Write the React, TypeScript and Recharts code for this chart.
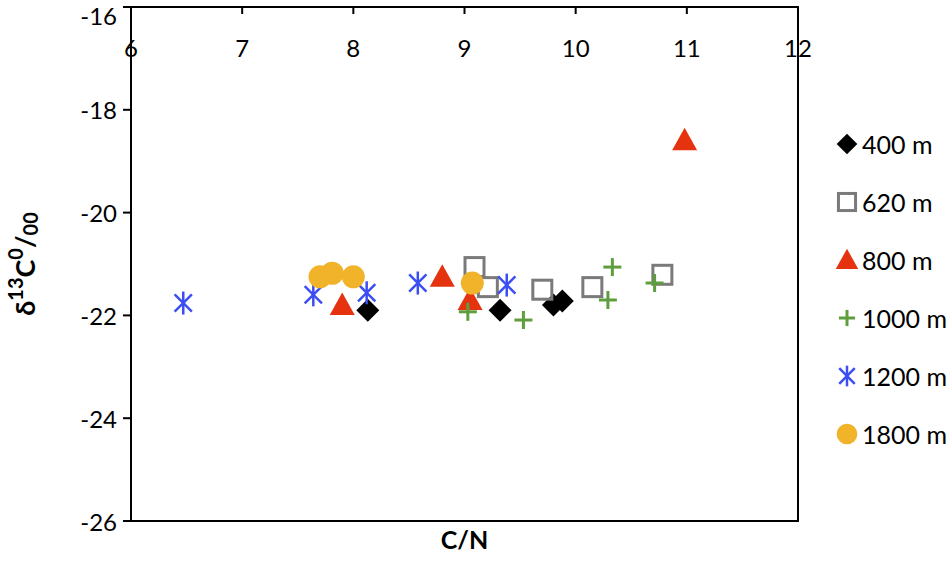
import React from "react"
import { ScatterChart, Scatter, XAxis, YAxis, ReferenceArea, Label } from "recharts"

// C/N vs d13C by depth
const depths = ["400 m", "620 m", "800 m", "1000 m", "1200 m", "1800 m"]

const cn400 = [8.13, 9.32, 9.8, 9.88]
const d400 = [-21.9, -21.9, -21.8, -21.72]

const cn620 = [9.09, 9.21, 9.7, 10.15, 10.78]
const d620 = [-21.06, -21.45, -21.5, -21.45, -21.21]

const cn800 = [7.9, 8.8, 9.05, 10.98]
const d800 = [-21.8, -21.25, -21.7, -18.59]

const cn1000 = [9.03, 9.53, 10.33, 10.29, 10.71]
const d1000 = [-21.93, -22.09, -21.06, -21.7, -21.37]

const cn1200 = [6.47, 7.64, 8.12, 8.58, 9.38]
const d1200 = [-21.76, -21.6, -21.56, -21.37, -21.41]

const cn1800 = [7.7, 7.81, 8.0, 9.07]
const d1800 = [-21.25, -21.18, -21.25, -21.37]

const xTicks = [6, 7, 8, 9, 10, 11, 12]
const yTicks = [-16, -18, -20, -22, -24, -26]

const toPoints = (xs: number[], ys: number[]) => xs.map((x, i) => ({ x, y: ys[i] }))

type Kind = "diamond" | "square" | "triangle" | "plus" | "star" | "circle"

const series: { name: string; kind: Kind; color: string; data: { x: number; y: number }[] }[] = [
  { name: depths[0], kind: "diamond", color: "#000000", data: toPoints(cn400, d400) },
  { name: depths[1], kind: "square", color: "#7a7a7a", data: toPoints(cn620, d620) },
  { name: depths[2], kind: "triangle", color: "#e5330f", data: toPoints(cn800, d800) },
  { name: depths[3], kind: "plus", color: "#5f9e3c", data: toPoints(cn1000, d1000) },
  { name: depths[4], kind: "star", color: "#3b4ef2", data: toPoints(cn1200, d1200) },
  { name: depths[5], kind: "circle", color: "#f0b32a", data: toPoints(cn1800, d1800) },
]

const FONT = "Lato, 'Open Sans', sans-serif"

function Marker({ kind, color, cx, cy, s = 1 }: { kind: Kind; color: string; cx: number; cy: number; s?: number }) {
  if (cx == null || cy == null) return null
  switch (kind) {
    case "diamond": {
      const r = 11.5 * s
      return <path d={`M${cx},${cy - r} L${cx + r},${cy} L${cx},${cy + r} L${cx - r},${cy} Z`} fill={color} />
    }
    case "square": {
      const h = 9.5 * s
      return <rect x={cx - h} y={cy - h} width={2 * h} height={2 * h} fill="none" stroke={color} strokeWidth={3} />
    }
    case "triangle": {
      const h = 12.5 * s
      return <path d={`M${cx},${cy - h} L${cx + h},${cy + h * 0.8} L${cx - h},${cy + h * 0.8} Z`} fill={color} />
    }
    case "plus": {
      const h = 9 * s
      return (
        <g stroke={color} strokeWidth={3}>
          <line x1={cx - h} y1={cy} x2={cx + h} y2={cy} />
          <line x1={cx} y1={cy - h} x2={cx} y2={cy + h} />
        </g>
      )
    }
    case "star": {
      const h = 11.5 * s
      const d = h * 0.75
      return (
        <g stroke={color} strokeWidth={2.5}>
          <line x1={cx} y1={cy - h} x2={cx} y2={cy + h} />
          <line x1={cx - d} y1={cy - d} x2={cx + d} y2={cy + d} />
          <line x1={cx - d} y1={cy + d} x2={cx + d} y2={cy - d} />
        </g>
      )
    }
    case "circle":
      return <circle cx={cx} cy={cy} r={11.5 * s} fill={color} />
  }
  return null
}

function LegendBox() {
  return (
    <div style={{ position: "absolute", left: 834, top: 115, fontFamily: FONT, fontSize: 25, color: "#000" }}>
      {series.map(s => (
        <div key={s.name} style={{ display: "flex", alignItems: "center", height: 58 }}>
          <svg width={26} height={26} style={{ marginRight: 2 }}>
            <Marker kind={s.kind} color={s.color} cx={13} cy={13} s={0.9} />
          </svg>
          <span>{s.name}</span>
        </div>
      ))}
    </div>
  )
}

// y tick text, kept inside the top edge for the first label
function YTick({ x, y, payload }: any) {
  return (
    <text x={x} y={Math.max(y, 15)} textAnchor="end" dominantBaseline="central" fontFamily={FONT} fontSize={24} fill="#000">
      {payload.value}
    </text>
  )
}

function YTitle({ viewBox }: any) {
  const cx = 24
  const cy = viewBox ? viewBox.y + viewBox.height / 2 : 264
  return (
    <text
      x={cx}
      y={cy}
      transform={`rotate(-90, ${cx}, ${cy})`}
      textAnchor="middle"
      dominantBaseline="central"
      fontFamily={FONT}
      fontWeight="bold"
      fontSize={27}
      fill="#000"
    >
      δ<tspan dy={-9} fontSize={20}>13</tspan>
      <tspan dy={9}>C</tspan>
      <tspan dy={-9} fontSize={20}>0</tspan>
      <tspan dy={9}>/</tspan>
      <tspan dy={6} fontSize={20}>00</tspan>
    </text>
  )
}

export default function App() {
  return (
    <div style={{ position: "absolute", left: 0, top: 0, width: 950, height: 561, background: "#fff" }}>
      <ScatterChart width={950} height={561} margin={{ top: 7, right: 152, bottom: 40, left: 0 }}>
        <XAxis
          type="number"
          dataKey="x"
          orientation="top"
          mirror
          domain={[6, 12]}
          ticks={xTicks}
          interval={0}
          allowDataOverflow
          axisLine={{ stroke: "#000", strokeWidth: 2 }}
          tickLine={{ stroke: "#000", strokeWidth: 2 }}
          tickSize={7}
          tickMargin={26}
          tick={{ fill: "#000", fontSize: 24, fontFamily: FONT }}
        />
        <YAxis
          type="number"
          dataKey="y"
          domain={[-26, -16]}
          ticks={yTicks}
          interval={0}
          width={131}
          allowDataOverflow
          axisLine={{ stroke: "#000", strokeWidth: 2 }}
          tickLine={{ stroke: "#000", strokeWidth: 2 }}
          tickSize={8}
          tickMargin={6}
          tick={<YTick />}
        >
          <Label content={<YTitle />} />
        </YAxis>
        <ReferenceArea x1={6} x2={12} y1={-26} y2={-16} fill="none" stroke="#000" strokeWidth={2} ifOverflow="visible">
          <Label
            position="bottom"
            offset={10}
            value="C/N"
            style={{ fontFamily: FONT, fontWeight: "bold", fontSize: 25, fill: "#000" }}
          />
        </ReferenceArea>
        {series.map(s => (
          <Scatter
            key={s.name}
            name={s.name}
            data={s.data}
            fill={s.color}
            isAnimationActive={false}
            shape={(p: any) => <Marker kind={s.kind} color={s.color} cx={p.cx} cy={p.cy} />}
          />
        ))}
      </ScatterChart>
      <LegendBox />
    </div>
  )
}
